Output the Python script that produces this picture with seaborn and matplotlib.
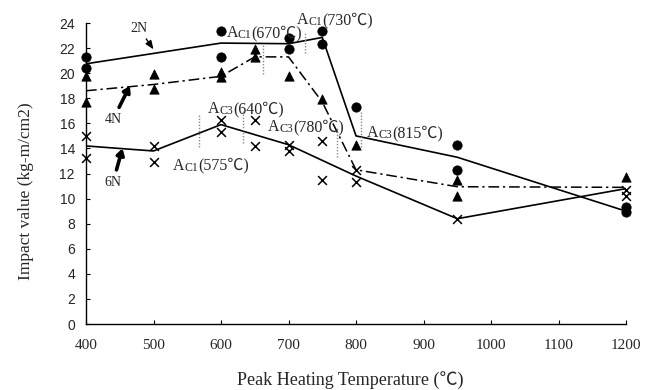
import numpy as np
import pandas as pd
import matplotlib
matplotlib.use("Agg")
import matplotlib.pyplot as plt
import seaborn as sns

# --- data ---
line_2n_x = [400, 600, 700, 750, 800, 950, 1200]
line_2n_y = [20.75, 22.4, 22.35, 22.85, 15.0, 13.3, 9.0]
line_4n_x = [400, 500, 600, 650, 700, 750, 800, 950, 1200]
line_4n_y = [18.6, 19.1, 19.75, 21.3, 21.3, 17.7, 12.3, 10.95, 10.9]
line_6n_x = [400, 500, 600, 700, 800, 950, 1200]
line_6n_y = [14.2, 13.8, 15.9, 14.3, 11.8, 8.4, 10.8]

pts_2n_x = [400, 400, 600, 600, 700, 700, 750, 750, 800, 950, 950, 1200, 1200]
pts_2n_y = [21.3, 20.4, 23.4, 21.3, 22.8, 21.9, 23.4, 22.3, 17.3, 14.3, 12.3, 9.3, 8.9]
pts_4n_x = [400, 400, 500, 500, 600, 600, 650, 650, 700, 750, 800, 950, 950, 1200]
pts_4n_y = [19.75, 17.7, 19.9, 18.75, 20.1, 19.7, 21.9, 21.3, 19.8, 17.95, 14.25, 11.5, 10.2, 11.75]
pts_6n_x = [400, 400, 500, 500, 600, 600, 650, 650, 700, 700, 750, 750, 800, 800, 950, 1200, 1200]
pts_6n_y = [15.0, 13.2, 14.2, 12.95, 16.3, 15.3, 16.3, 14.2, 14.3, 13.8, 14.6, 11.5, 12.3, 11.3, 8.4, 10.7, 10.2]

# transformation points (dotted markers + labels)
trans_x = [567, 632, 662, 724, 772, 807]
trans_lo = [14.1, 14.4, 19.9, 21.6, 13.3, 14.1]
trans_hi = [16.7, 17.1, 22.3, 23.2, 15.6, 16.9]

lab_sub = ["C1", "C1", "C3", "C3", "C1", "C3"]
lab_temp = [670, 730, 640, 780, 575, 815]
lab_x = [608, 712, 581, 669, 529, 816]
lab_y = [22.86, 23.9, 16.8, 15.4, 12.3, 14.9]

xticks = list(range(400, 1201, 100))
yticks = list(range(0, 25, 2))

sns.set_style("ticks")
serif = ["Liberation Serif", "Noto Sans CJK JP"]
plt.rcParams["font.family"] = ["Liberation Sans", "DejaVu Sans"]

fig = plt.figure(figsize=(6.53, 3.9), dpi=100)
ax = fig.add_axes([0.1317, 0.169, 0.827, 0.772])

# 線
sns.lineplot(x=line_2n_x, y=line_2n_y, ax=ax, color="black", lw=1.2, sort=False, estimator=None)
sns.lineplot(x=line_4n_x, y=line_4n_y, ax=ax, color="black", lw=1.1, sort=False, estimator=None,
             linestyle=(0, (7, 2.5, 1.5, 2.5)))
sns.lineplot(x=line_6n_x, y=line_6n_y, ax=ax, color="black", lw=1.2, sort=False, estimator=None)

# マーカー（軸の端で切れないように clip_on=False）
sns.scatterplot(x=pts_2n_x, y=pts_2n_y, ax=ax, marker="o", color="black", s=45, edgecolor="black",
                zorder=3, clip_on=False)
sns.scatterplot(x=pts_4n_x, y=pts_4n_y, ax=ax, marker="^", color="black", s=45, edgecolor="black",
                zorder=3, clip_on=False)
sns.scatterplot(x=pts_6n_x, y=pts_6n_y, ax=ax, marker="x", color="black", s=40, linewidth=1.1,
                zorder=3, clip_on=False)

# 変態点の点線
for x, lo, hi in zip(trans_x, trans_lo, trans_hi):
    ax.plot([x, x], [lo, hi], color="#888888", lw=1.0, linestyle=(0, (1, 1.2)))

# Ac1/Ac3 ラベル
for sub, temp, x, y in zip(lab_sub, lab_temp, lab_x, lab_y):
    t1 = ax.text(x, y, "A", fontsize=11.5, family=serif, va="baseline", ha="left")
    t2 = ax.annotate(sub, xy=(1, 0), xycoords=t1, fontsize=8.5, family=serif, va="bottom", ha="left")
    ax.annotate("({}℃)".format(temp), xy=(1, 0), xycoords=(t2, t1), fontsize=11.5, family=serif,
                va="bottom", ha="left")

# 系列ラベルと矢印
ax.annotate("2N", xy=(500, 21.9), xytext=(478, 23.6), fontsize=10, family=serif, ha="center", va="center",
            arrowprops=dict(arrowstyle="-|>,head_length=0.5,head_width=0.2", color="black", lw=1.0,
                            shrinkA=1, shrinkB=0))
ax.annotate("4N", xy=(465, 19.0), xytext=(440, 16.3), fontsize=10, family=serif, ha="center", va="center",
            arrowprops=dict(arrowstyle="-|>,head_length=0.35,head_width=0.22", color="black", lw=2.6,
                            shrinkA=2, shrinkB=0))
ax.annotate("6N", xy=(454, 14.0), xytext=(440, 11.3), fontsize=10, family=serif, ha="center", va="center",
            arrowprops=dict(arrowstyle="-|>,head_length=0.35,head_width=0.22", color="black", lw=2.6,
                            shrinkA=2, shrinkB=0))

ax.set_xlim(400, 1200)
ax.set_ylim(0, 24)
ax.set_xticks(xticks)
ax.set_yticks(yticks)
ax.set_xticklabels([str(t) for t in xticks], family=serif, fontsize=11)
ax.set_yticklabels([str(t) for t in yticks], fontsize=10)
ax.tick_params(axis="both", direction="in", length=3, width=0.8, color="black")
ax.tick_params(axis="x", pad=11)
ax.tick_params(axis="y", pad=8)
sns.despine(ax=ax)
for s in ["left", "bottom"]:
    ax.spines[s].set_linewidth(1.0)
    ax.spines[s].set_color("black")

ax.set_xlabel("Peak Heating Temperature (℃)", family=serif, fontsize=13)
ax.set_ylabel("Impact value (kg-m/cm2)", family=serif, fontsize=12.5)
ax.xaxis.set_label_coords(0.49, -0.155)
ax.yaxis.set_label_coords(-0.096, 0.44)

plt.savefig("out.png", dpi=100)
plt.close()
